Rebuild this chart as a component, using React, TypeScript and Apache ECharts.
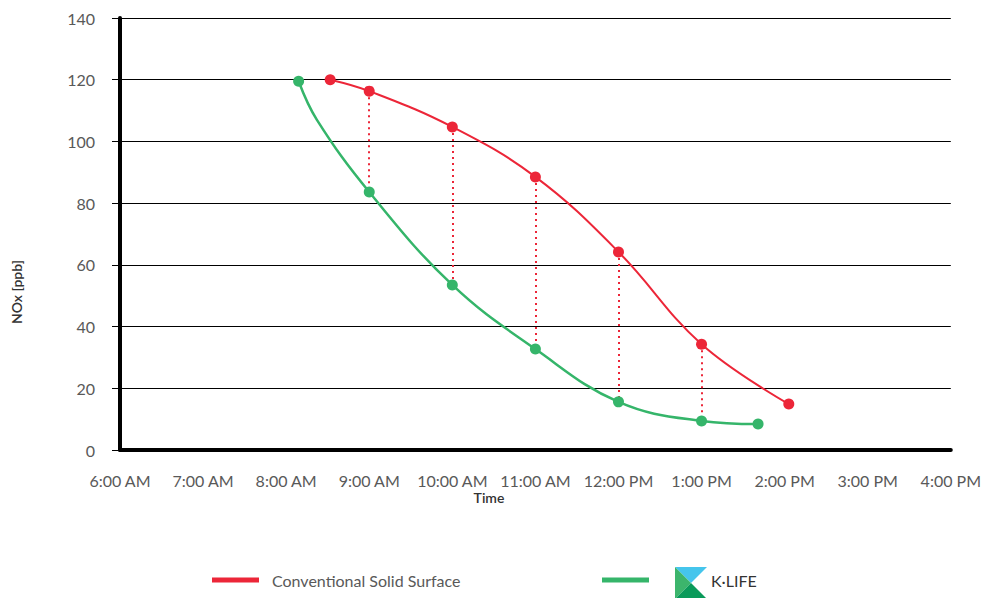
import React, { useEffect, useRef } from "react";
import * as echarts from "echarts";

const SERIES_RED = "Conventional Solid Surface";
const SERIES_GREEN = "K·LIFE";

// times in decimal hours
const redTimes = [8.53, 9, 10, 11, 12, 13, 14.05];
const redValues = [120, 116.3, 104.7, 88.5, 64.2, 34.3, 14.9];

const greenTimes = [8.15, 8.37, 9, 10, 11, 12, 13, 13.68];
const greenValues = [119.5, 107, 83.6, 53.5, 32.7, 15.6, 9.4, 8.4];
const greenHiddenMarker = [false, true, false, false, false, false, false, false];

const pairedHours = [9, 10, 11, 12, 13];

const xMin = 6;
const xMax = 16;
const yMin = 0;
const yMax = 140;
const yStep = 20;

const RED = "#ec2638";
const GREEN = "#35b56a";
const FONT = "Lato";

function timeLabel(v: number): string {
  const suffix = v < 12 ? "AM" : "PM";
  const h = v > 12 ? v - 12 : v;
  return `${h}:00 ${suffix}`;
}

export default function App() {
  const ref = useRef<HTMLDivElement>(null);

  useEffect(() => {
    if (!ref.current) return;
    const chart = echarts.init(ref.current, undefined, { renderer: "svg" });

    const redData = redTimes.map((t, i) => [t, redValues[i]]);
    const greenData = greenTimes.map((t, i) =>
      greenHiddenMarker[i]
        ? { value: [t, greenValues[i]], symbolSize: 0 }
        : { value: [t, greenValues[i]] }
    );

    const pairLines = pairedHours.map((h) => {
      const r = redValues[redTimes.indexOf(h)];
      const g = greenValues[greenTimes.indexOf(h)];
      return [{ coord: [h, r] }, { coord: [h, g] }];
    });

    chart.setOption({
      animation: false,
      backgroundColor: "#ffffff",
      grid: { left: 120, right: 25, top: 18, bottom: 148, containLabel: false },
      xAxis: {
        type: "value",
        min: xMin,
        max: xMax,
        interval: 1,
        axisLine: { show: true, onZero: false, lineStyle: { color: "#000", width: 4 } },
        axisTick: { show: false },
        splitLine: { show: false },
        axisLabel: {
          formatter: (v: number) => timeLabel(v),
          color: "#595959",
          fontFamily: FONT,
          fontSize: 16,
          margin: 22,
        },
      },
      yAxis: {
        type: "value",
        min: yMin,
        max: yMax,
        interval: yStep,
        axisLine: { show: true, lineStyle: { color: "#000", width: 4 } },
        axisTick: { show: true, length: 8, lineStyle: { color: "#000", width: 1 } },
        splitLine: { show: true, lineStyle: { color: "#000", width: 1 } },
        axisLabel: {
          color: "#595959",
          fontFamily: FONT,
          fontSize: 16,
          margin: 25,
        },
      },
      legend: [
        {
          data: [SERIES_RED],
          left: 212,
          top: 572,
          padding: 0,
          icon: "rect",
          itemWidth: 47,
          itemHeight: 5,
          selectedMode: false,
          textStyle: {
            color: "#595959",
            fontFamily: FONT,
            fontSize: 16,
            padding: [0, 0, 0, 8],
          },
        },
        {
          data: [SERIES_GREEN],
          left: 602,
          top: 572,
          padding: 0,
          icon: "rect",
          itemWidth: 47,
          itemHeight: 5,
          selectedMode: false,
          textStyle: {
            color: "#333333",
            fontFamily: FONT,
            fontSize: 16,
            padding: [0, 0, 0, 57],
          },
        },
      ],
      graphic: [
        {
          type: "text",
          x: 489,
          y: 497,
          style: {
            text: "Time",
            fill: "#333333",
            font: `600 14px ${FONT}`,
            align: "center",
            verticalAlign: "middle",
          },
        },
        {
          type: "text",
          x: 16,
          y: 292,
          rotation: Math.PI / 2,
          style: {
            text: "NOx [ppb]",
            fill: "#333333",
            font: `600 14px ${FONT}`,
            align: "center",
            verticalAlign: "middle",
          },
        },
        {
          type: "group",
          x: 675,
          y: 567,
          children: [
            {
              type: "polygon",
              shape: { points: [[0, 0], [32, 0], [16, 16]] },
              style: { fill: "#45c5ec" },
            },
            {
              type: "polygon",
              shape: { points: [[0, 0], [16, 16], [0, 32]] },
              style: { fill: "#3cb56c" },
            },
            {
              type: "polygon",
              shape: { points: [[0, 32], [16, 16], [32, 32]] },
              style: { fill: "#0a9a5a" },
            },
          ],
        },
      ],
      series: [
        {
          name: SERIES_RED,
          type: "line",
          data: redData,
          smooth: 0.4,
          symbol: "circle",
          symbolSize: 11,
          color: RED,
          lineStyle: { color: RED, width: 2 },
          itemStyle: { color: RED },
          z: 3,
          markLine: {
            silent: true,
            symbol: ["none", "none"],
            label: { show: false },
            lineStyle: { color: RED, type: [2, 4], width: 2 },
            data: pairLines,
            z: 1,
          },
        },
        {
          name: SERIES_GREEN,
          type: "line",
          data: greenData,
          smooth: 0.4,
          symbol: "circle",
          symbolSize: 11,
          color: GREEN,
          lineStyle: { color: GREEN, width: 2.5 },
          itemStyle: { color: GREEN },
          z: 4,
        },
      ],
    });

    return () => chart.dispose();
  }, []);

  return <div ref={ref} style={{ width: 984, height: 598, position: "absolute", left: 0, top: 0 }} />;
}
